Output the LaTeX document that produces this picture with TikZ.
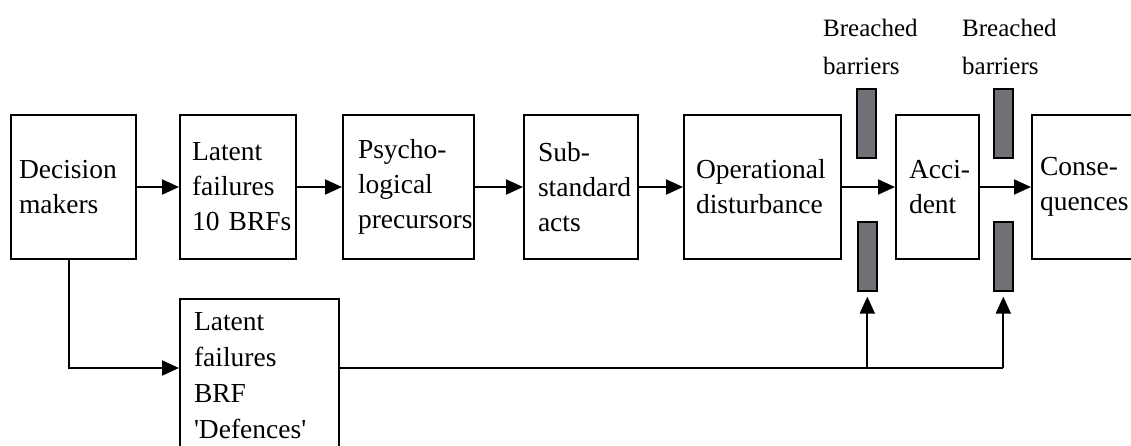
\documentclass[tikz,border=0pt]{standalone}
\usepackage{fontspec}
\setmainfont{Liberation Serif}[Ligatures=TeXOff]
\usetikzlibrary{arrows.meta,calc}
\definecolor{bargray}{RGB}{112,113,118}
\begin{document}
\begin{tikzpicture}[x=1pt,y=-1pt,
  box/.style={draw, line width=2pt, inner xsep=0pt, inner ysep=0pt, align=left,
    anchor=north west, minimum height=144pt,
    font=\fontsize{27.5}{35}\selectfont},
  lowbox/.style={draw, line width=2pt, inner xsep=0pt, inner ysep=13pt, align=left,
    anchor=north west, font=\fontsize{27.5}{36}\selectfont},
  bar/.style={draw, line width=1.6pt, fill=bargray, inner sep=0pt, anchor=north west,
    minimum width=19pt, minimum height=69pt},
  lab/.style={inner sep=0pt, anchor=north west, align=left,
    font=\fontsize{25}{38}\selectfont},
  arr/.style={line width=2pt, -{Triangle[length=17pt,width=15pt]}},
  ln/.style={line width=2pt}]
\useasboundingbox (0,0) rectangle (1131,446);

\node[box, minimum width=125pt, text width=109pt] (dm) at (10,114) {\mbox{Decision}\\\mbox{makers}};
\node[box, minimum width=116pt, text width=92pt] (lf1) at (179,114) {\mbox{Latent}\\\mbox{failures}\\\mbox{10 BRFs}};
\node[box, minimum width=131pt, text width=101pt] (psy) at (342,114) {\mbox{Psycho-}\\\mbox{logical}\\\mbox{precursors}};
\node[box, minimum width=114pt, text width=86pt] (sub) at (523,114) {\mbox{Sub-}\\\mbox{standard}\\\mbox{acts}};
\node[box, minimum width=157pt, text width=133pt] (op) at (683,114) {\mbox{Operational}\\\mbox{disturbance}};
\node[box, minimum width=83pt, text width=57pt] (acc) at (895,114) {\mbox{Acci-}\\\mbox{dent}};
\node[box, minimum width=115pt, text width=99pt] (con) at (1031,114) {\mbox{Conse-}\\\mbox{quences}};

\node[lowbox, minimum width=159pt, text width=131pt] (lf2) at (179,298) {\mbox{Latent}\\\mbox{failures}\\\mbox{BRF}\\\mbox{'Defences'}};

\node[bar] (b1t) at (856,88) {};
\node[bar] (b1b) at (857,221) {};
\node[bar] (b2t) at (993,88) {};
\node[bar] (b2b) at (993,221) {};

\node[lab] (l1) at (823,19) {\mbox{Breached}\\\mbox{barriers}};
\node[lab] (l2) at (962,19) {\mbox{Breached}\\\mbox{barriers}};

\draw[arr] (dm) -- (lf1);
\draw[arr] (lf1) -- (psy);
\draw[arr] (psy) -- (sub);
\draw[arr] (sub) -- (op);
\draw[arr] (op) -- (acc);
\draw[arr] (acc) -- (con.west |- acc);

\coordinate (bus) at (0,368);
\coordinate (dmfoot) at ($(dm.south west)!0.465!(dm.south east)$);
\coordinate (j1) at (b1b.south |- bus);
\coordinate (j2) at (b2b.south |- bus);

\draw[arr] (dmfoot) |- (lf2.west |- bus);
\draw[ln] (lf2.east |- bus) -- (j2);
\draw[arr, shorten >=5pt] (j1) -- (b1b.south);
\draw[arr, shorten >=5pt] (j2) -- (b2b.south);
\end{tikzpicture}
\end{document}
